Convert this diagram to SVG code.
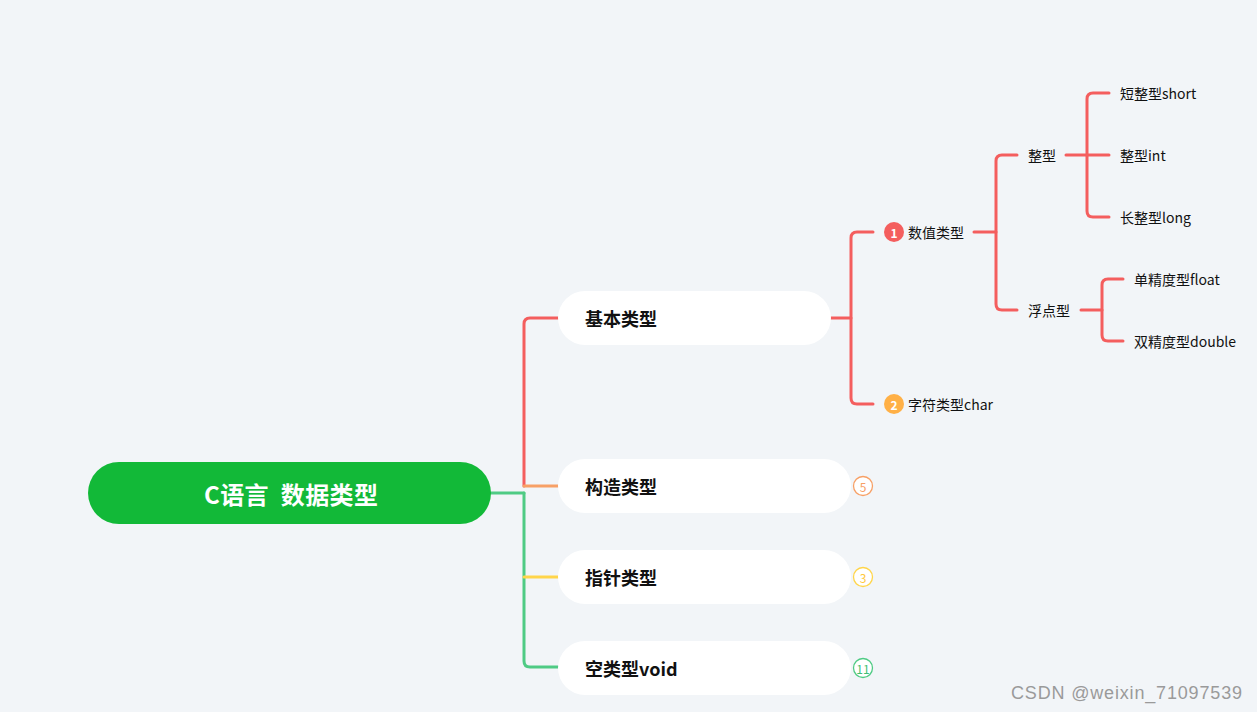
<svg xmlns="http://www.w3.org/2000/svg" width="1257" height="712" viewBox="0 0 1257 712">
<style>
text{font-family:"Noto Sans CJK SC","Noto Sans",sans-serif;dominant-baseline:central}
.c{fill:none;stroke-width:3;stroke-linecap:round;stroke-linejoin:round}
.r{stroke:#f45e5e}
.br{fill:#fff}
.bt{font-size:18px;font-weight:bold;fill:#111}
.lt{font-size:14px;fill:#111}
.bd{font-size:12px;text-anchor:middle}
</style>
<rect width="1257" height="712" fill="#f2f5f8"/>
<g id="connectors">
<path class="c" d="M491 493H524" stroke="#4fcb84"/>
<path class="c r" d="M558 318H530Q524 318 524 324V486"/>
<path class="c" d="M524 486H558" stroke="#f7a066"/>
<path class="c" d="M524 493V661Q524 667 530 667H558" stroke="#4fcb84"/>
<path class="c" d="M524 577H558" stroke="#ffd54a"/>
<path class="c r" d="M831 318H851"/>
<path class="c r" d="M873 232H857Q851 232 851 238V398Q851 404 857 404H873"/>
<path class="c r" d="M974 232H996"/>
<path class="c r" d="M1017 155H1002Q996 155 996 161V304Q996 310 1002 310H1017"/>
<path class="c r" d="M1066 155H1087"/>
<path class="c r" d="M1109 93H1093Q1087 93 1087 99V211Q1087 217 1093 217H1109"/>
<path class="c r" d="M1087 155H1109"/>
<path class="c r" d="M1081 310H1102"/>
<path class="c r" d="M1123 279H1108Q1102 279 1102 285V335Q1102 341 1108 341H1123"/>
</g>
<g id="root">
<rect x="88" y="462" width="403" height="62" rx="31" fill="#12b938"/>
<text x="204" y="493" font-size="24" font-weight="bold" fill="#fff" textLength="174" xml:space="preserve">C语言  数据类型</text>
</g>
<g id="n-basic">
<rect class="br" x="558" y="291" width="273" height="54" rx="27"/>
<text class="bt" x="585" y="318">基本类型</text>
</g>
<g id="n-struct">
<rect class="br" x="558" y="459" width="293" height="54" rx="27"/>
<text class="bt" x="585" y="486">构造类型</text>
<circle cx="863" cy="486" r="9.5" fill="#fff" stroke="#f7a066" stroke-width="1.3"/>
<text class="bd" x="863" y="486" fill="#f7a066">5</text>
</g>
<g id="n-pointer">
<rect class="br" x="558" y="550" width="293" height="54" rx="27"/>
<text class="bt" x="585" y="577">指针类型</text>
<circle cx="863" cy="577" r="9.5" fill="#fff" stroke="#ffd54a" stroke-width="1.3"/>
<text class="bd" x="863" y="577" fill="#ffc83a">3</text>
</g>
<g id="n-void">
<rect class="br" x="558" y="641" width="293" height="54" rx="27"/>
<text class="bt" x="585" y="668">空类型void</text>
<circle cx="863" cy="668" r="9.5" fill="#fff" stroke="#4fcb84" stroke-width="1.3"/>
<text class="bd" x="863" y="668" fill="#3fbf74">11</text>
</g>
<g id="n-num">
<circle cx="894" cy="232" r="10" fill="#f45e5e"/>
<text class="bd" x="894" y="232" fill="#fff" font-weight="bold" font-size="13">1</text>
<text class="lt" x="908" y="232">数值类型</text>
</g>
<g id="n-char">
<circle cx="894" cy="404" r="10" fill="#ffb046"/>
<text class="bd" x="894" y="404" fill="#fff" font-weight="bold" font-size="13">2</text>
<text class="lt" x="908" y="404">字符类型char</text>
</g>
<g id="n-int"><text class="lt" x="1028" y="155">整型</text></g>
<g id="n-float"><text class="lt" x="1028" y="310">浮点型</text></g>
<g id="n-short"><text class="lt" x="1120" y="93">短整型short</text></g>
<g id="n-intint"><text class="lt" x="1120" y="155">整型int</text></g>
<g id="n-long"><text class="lt" x="1120" y="217">长整型long</text></g>
<g id="n-f"><text class="lt" x="1134" y="279">单精度型float</text></g>
<g id="n-d"><text class="lt" x="1134" y="341">双精度型double</text></g>
<text x="1011" y="693" font-size="18" fill="#9a9a9a" textLength="231" style="font-family:'Liberation Sans',sans-serif">CSDN @weixin_71097539</text>
</svg>
